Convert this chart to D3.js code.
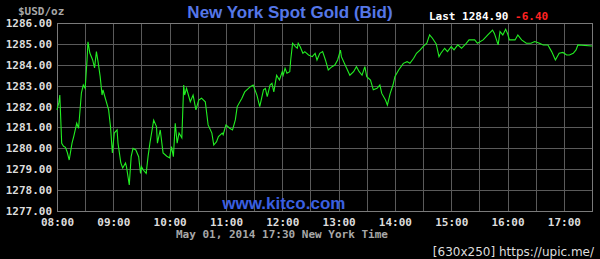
<!DOCTYPE html>
<html>
<head>
<meta charset="utf-8">
<script src="https://cdnjs.cloudflare.com/ajax/libs/d3/7.8.5/d3.min.js"></script>
<style>
  body { margin: 0; background: #000; }
  svg { display: block; }
</style>
</head>
<body>
<div id="chart"></div>
<script>
// spot gold bid, May 01 2014 (New York time)
var times = ["08:00","08:02","08:03","08:05","08:07","08:09","08:11","08:13","08:16","08:18",
  "08:21","08:23","08:26","08:28","08:30","08:32","08:33","08:35","08:38","08:40",
  "08:42","08:44","08:46","08:48","08:49","08:51","08:55","08:57","08:59","09:01",
  "09:04","09:05","09:08","09:10","09:13","09:14","09:17","09:19","09:21","09:24",
  "09:27","09:29","09:30","09:32","09:35","09:37","09:39","09:43","09:46","09:47",
  "09:50","09:53","09:57","10:00","10:02","10:04","10:06","10:08","10:10","10:13",
  "10:15","10:16","10:18","10:22","10:25","10:28","10:31","10:34","10:38","10:41",
  "10:45","10:47","10:50","10:52","10:56","10:57","11:00","11:04","11:07","11:10",
  "11:12","11:17","11:20","11:24","11:26","11:29","11:33","11:36","11:40","11:42",
  "11:44","11:47","11:49","11:51","11:54","11:57","12:00","12:01","12:03","12:05",
  "12:08","12:09","12:11","12:14","12:16","12:17","12:19","12:22","12:24","12:28",
  "12:32","12:35","12:37","12:40","12:43","12:46","12:49","12:53","12:56","12:59",
  "13:02","13:03","13:07","13:12","13:16","13:19","13:22","13:25","13:28","13:30",
  "13:34","13:37","13:41","13:44","13:46","13:50","13:52","13:55","13:58","14:00",
  "14:04","14:09","14:13","14:16","14:20","14:23","14:27","14:30","14:34","14:37",
  "14:40","14:44","14:47","14:49","14:53","14:56","15:00","15:03","15:07","15:11",
  "15:16","15:19","15:25","15:28","15:34","15:39","15:44","15:46","15:50","15:52",
  "15:55","15:58","16:00","16:02","16:08","16:11","16:15","16:20","16:25","16:29",
  "16:34","16:38","16:43","16:47","16:51","16:55","16:59","17:03","17:06","17:10",
  "17:13","17:15","17:30"];
var bids = [1281.84,1282.20,1282.55,1280.24,1280.10,1280.05,1279.80,1279.44,1280.25,1280.60,
  1281.20,1280.96,1282.65,1283.03,1282.87,1284.23,1285.10,1284.56,1284.23,1283.85,
  1284.63,1284.07,1283.43,1282.55,1282.80,1282.47,1281.84,1281.04,1279.78,1280.73,
  1280.88,1280.25,1279.30,1279.06,1279.30,1279.12,1278.25,1279.60,1280.00,1279.92,
  1279.60,1278.80,1279.12,1278.96,1278.80,1279.60,1280.25,1281.35,1281.04,1280.25,
  1280.88,1279.78,1279.62,1279.54,1280.08,1279.60,1281.20,1280.25,1280.73,1280.50,
  1283.03,1282.55,1282.87,1282.23,1282.55,1281.84,1282.31,1282.40,1282.23,1281.12,
  1280.73,1280.16,1280.32,1280.56,1280.73,1280.65,1281.12,1280.96,1280.88,1281.36,
  1282.00,1282.40,1282.70,1282.87,1282.95,1283.03,1282.55,1282.00,1282.80,1282.87,
  1282.47,1283.03,1283.11,1282.70,1283.50,1283.27,1283.67,1283.50,1283.83,1283.60,
  1283.67,1284.23,1285.03,1284.87,1284.79,1285.03,1284.87,1284.55,1284.63,1284.47,
  1284.39,1284.55,1284.23,1284.55,1284.63,1284.23,1283.75,1283.91,1283.99,1284.23,
  1284.70,1284.39,1283.99,1283.50,1283.67,1283.91,1283.67,1283.50,1283.91,1283.43,
  1283.27,1282.80,1282.87,1283.03,1282.63,1282.31,1282.07,1282.63,1283.03,1283.43,
  1283.75,1284.07,1284.15,1284.07,1284.31,1284.55,1284.71,1284.87,1285.03,1285.43,
  1285.27,1285.00,1284.39,1284.55,1284.79,1284.63,1284.87,1284.71,1284.95,1284.79,
  1285.03,1285.19,1285.19,1285.03,1285.19,1285.43,1285.66,1285.50,1284.95,1285.59,
  1285.43,1285.70,1285.50,1285.19,1285.19,1285.43,1285.19,1285.03,1285.03,1285.11,
  1285.03,1284.95,1284.95,1284.63,1284.23,1284.55,1284.59,1284.47,1284.47,1284.55,
  1284.71,1284.95,1284.90];

var priceTicks = [1277, 1278, 1279, 1280, 1281, 1282, 1283, 1284, 1285, 1286];
var hourTicks = ["08:00","09:00","10:00","11:00","12:00","13:00","14:00","15:00","16:00","17:00"];
var lastPrice = "1284.90", change = "-6.40";

var W = 600, H = 259;
var margin = {top: 23, right: 8, bottom: 48, left: 57},
    width = W - margin.left - margin.right,
    height = H - margin.top - margin.bottom;

var parse = d3.timeParse("%Y-%m-%d %H:%M");
var day = "2014-05-01 ";
var data = times.map(function (t, i) {
    return {date: parse(day + t), bid: bids[i]};
});

var x = d3.scaleTime()
    .domain([parse(day + "08:00"), parse(day + "17:30")])
    .range([0, width]);
var y = d3.scaleLinear().domain([1277, 1286]).range([height, 0]);

var svg = d3.select("#chart").append("svg")
    .attr("width", W)
    .attr("height", H)
    .style("background", "#000");

var g = svg.append("g")
    .attr("transform", "translate(" + margin.left + "," + margin.top + ")");

var mono = "'DejaVu Sans Mono', 'Liberation Mono', monospace";

// grid: every $1 and every half hour
var halfHours = d3.timeMinute.every(30).range(x.domain()[0], x.domain()[1]);
g.append("g").selectAll("line")
    .data(halfHours)
    .enter().append("line")
    .attr("x1", function (d) { return Math.round(x(d)) + 0.5; })
    .attr("x2", function (d) { return Math.round(x(d)) + 0.5; })
    .attr("y1", 0).attr("y2", height)
    .attr("stroke", "#5a5a5a");
g.append("g").selectAll("line")
    .data(priceTicks)
    .enter().append("line")
    .attr("x1", 0).attr("x2", width)
    .attr("y1", function (d) { return Math.round(y(d)) + 0.5; })
    .attr("y2", function (d) { return Math.round(y(d)) + 0.5; })
    .attr("stroke", "#5a5a5a");

g.append("rect")
    .attr("x", 0.5).attr("y", 0.5)
    .attr("width", width).attr("height", height)
    .attr("fill", "none")
    .attr("stroke", "#7a7a7a");

// axes
var yAxis = g.append("g")
    .call(d3.axisLeft(y).tickValues(priceTicks).tickSize(0).tickPadding(5)
        .tickFormat(d3.format(".2f")));
yAxis.select(".domain").remove();
yAxis.selectAll("text")
    .attr("fill", "#dcdcdc")
    .style("font", "bold 11px " + mono);

var xAxis = g.append("g")
    .attr("transform", "translate(0," + height + ")")
    .call(d3.axisBottom(x)
        .tickValues(hourTicks.map(function (t) { return parse(day + t); }))
        .tickSize(0).tickPadding(7)
        .tickFormat(d3.timeFormat("%H:%M")));
xAxis.select(".domain").remove();
xAxis.selectAll("text")
    .attr("fill", "#dcdcdc")
    .style("font", "bold 11px " + mono);

// watermark
g.append("text")
    .attr("x", width * 0.424).attr("y", height - 2)
    .attr("text-anchor", "middle")
    .attr("fill", "#3a5fe0")
    .style("font", "bold 17px 'Liberation Sans', Arial, sans-serif")
    .text("www.kitco.com");

// price line
var line = d3.line()
    .x(function (d) { return x(d.date); })
    .y(function (d) { return y(d.bid); });

g.append("path")
    .datum(data)
    .attr("fill", "none")
    .attr("stroke", "#22ee22")
    .attr("stroke-width", 1.1)
    .attr("d", line);

// header texts
svg.append("text")
    .attr("x", 290).attr("y", 18)
    .attr("text-anchor", "middle")
    .attr("fill", "#5577e8")
    .style("font", "bold 17px 'Liberation Sans', Arial, sans-serif")
    .text("New York Spot Gold (Bid)");

svg.append("text")
    .attr("x", 18).attr("y", 15)
    .attr("fill", "#a8a8a8")
    .style("font", "bold 11px " + mono)
    .text("$USD/oz");

var last = svg.append("text")
    .attr("x", 429).attr("y", 20)
    .style("font", "bold 11px " + mono);
last.append("tspan").attr("fill", "#ffffff").text("Last " + lastPrice + " ");
last.append("tspan").attr("fill", "#ff2222").text(change);

svg.append("text")
    .attr("x", 176).attr("y", 238)
    .attr("fill", "#a8a8a8")
    .style("font", "bold 11px " + mono)
    .text("May 01, 2014 17:30 New York Time");

svg.append("text")
    .attr("x", 594).attr("y", 256)
    .attr("text-anchor", "end")
    .attr("fill", "#dddddd")
    .style("font", "12px 'DejaVu Sans', sans-serif")
    .text("[630x250] https://upic.me/");
</script>
</body>
</html>
